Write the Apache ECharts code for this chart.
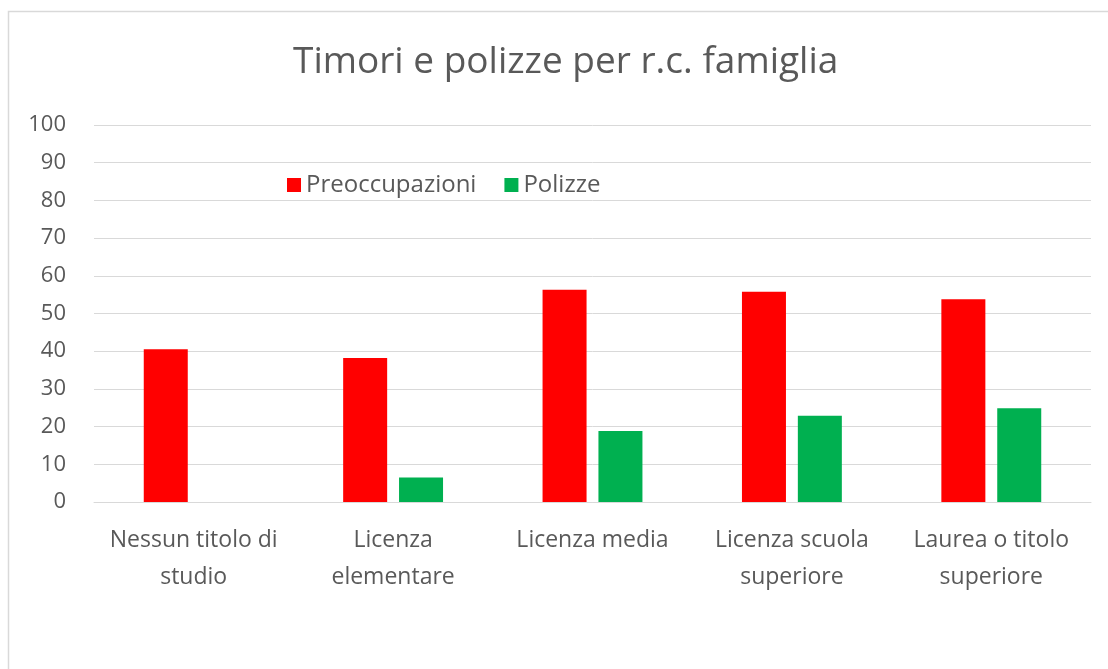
<!DOCTYPE html>
<html>
<head>
<meta charset="utf-8">
<script src="https://cdn.jsdelivr.net/npm/echarts@6/dist/echarts.min.js"></script>
<style>
  html, body { margin: 0; padding: 0; background: #ffffff; }
  #chart { width: 1108px; height: 669px; }
</style>
</head>
<body>
<div id="chart"></div>
<script>
// Titolo di studio (categorie sull'asse orizzontale)
const categories = [
  'Nessun titolo di\nstudio',
  'Licenza\nelementare',
  'Licenza media',
  'Licenza scuola\nsuperiore',
  'Laurea o titolo\nsuperiore'
];

// Percentuale di chi si dichiara preoccupato
const preoccupazioni = [40.5, 38.2, 56.3, 55.8, 53.8];

// Percentuale di chi ha una polizza r.c. famiglia
const polizze = [0, 6.5, 18.8, 22.9, 24.9];

// Etichette dell'asse verticale
const yTicks = [0, 10, 20, 30, 40, 50, 60, 70, 80, 90, 100];

const textColor = '#595959';
const font = '"Open Sans", "Noto Sans", sans-serif';

const chart = echarts.init(document.getElementById('chart'), null, { renderer: 'canvas' });

chart.setOption({
  backgroundColor: '#ffffff',
  animation: false,
  graphic: [{
    type: 'rect',
    left: 6, top: 9,
    shape: { width: 1110, height: 670 },
    style: { fill: 'none', stroke: '#d9d9d9', lineWidth: 1.5 },
    silent: true
  }],
  title: {
    text: 'Timori e polizze per r.c. famiglia',
    left: 288,
    top: 39,
    textStyle: { fontFamily: font, fontSize: 37, fontWeight: 'normal', color: textColor }
  },
  legend: {
    data: ['Preoccupazioni', 'Polizze'],
    left: 282,
    top: 168,
    itemWidth: 14,
    itemHeight: 14,
    itemGap: 28,
    icon: 'rect',
    textStyle: { fontFamily: font, fontSize: 24, color: textColor, padding: [0, 0, 0, 0] }
  },
  grid: { left: 94, right: 17, top: 125, bottom: 167, containLabel: false },
  xAxis: {
    type: 'category',
    data: categories,
    axisLine: { lineStyle: { color: '#d9d9d9', width: 1 } },
    axisTick: { show: false },
    axisLabel: {
      fontFamily: font, fontSize: 23, color: textColor,
      margin: 20, lineHeight: 37, interval: 0
    }
  },
  yAxis: {
    type: 'value',
    min: yTicks[0],
    max: yTicks[yTicks.length - 1],
    interval: yTicks[1] - yTicks[0],
    axisLine: { show: false },
    axisTick: { show: false },
    splitLine: { lineStyle: { color: '#d9d9d9', width: 1 } },
    axisLabel: { fontFamily: font, fontSize: 22, color: textColor, margin: 28 }
  },
  series: [
    {
      name: 'Preoccupazioni',
      type: 'bar',
      data: preoccupazioni,
      barWidth: 44,
      barGap: '27%',
      itemStyle: { color: '#ff0000' }
    },
    {
      name: 'Polizze',
      type: 'bar',
      data: polizze,
      barWidth: 44,
      itemStyle: { color: '#00b050' }
    }
  ]
});
</script>
</body>
</html>
